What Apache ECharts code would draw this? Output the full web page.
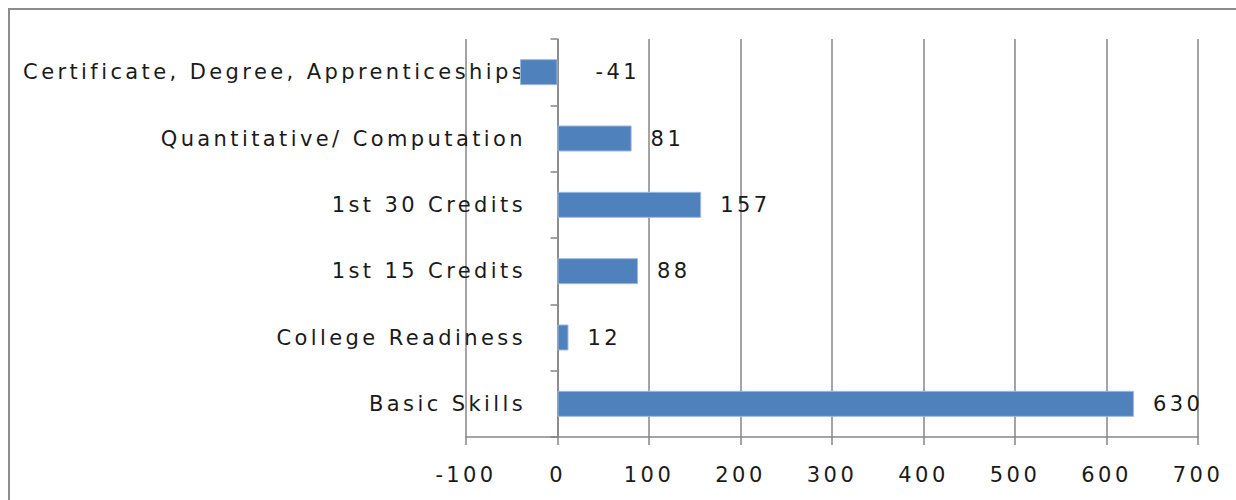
<!DOCTYPE html>
<html>
<head>
<meta charset="utf-8">
<script src="https://cdn.jsdelivr.net/npm/echarts@6/dist/echarts.min.js"></script>
<style>
  html, body { margin: 0; padding: 0; background: #fff; }
  #chart { width: 1236px; height: 500px; }
  /* the original Excel text is spread out wider than any installed font */
  #chart text { letter-spacing: 3.4px; }
</style>
</head>
<body>
<div id="chart"></div>
<script>
// categories listed bottom to top, as the category axis draws them
const categories = [
  'Basic Skills',
  'College Readiness',
  '1st 15 Credits',
  '1st 30 Credits',
  'Quantitative/ Computation',
  'Certificate, Degree, Apprenticeships'
];
const values = [630, 12, 88, 157, 81, -41];
const xTicks = [-100, 0, 100, 200, 300, 400, 500, 600, 700];

const myChart = echarts.init(document.getElementById('chart'), null, { renderer: 'svg' });

const font = 'DejaVu Sans';

const option = {
  backgroundColor: '#fff',
  animation: false,
  graphic: [
    {
      // outer chart frame, cut off at bottom and right
      type: 'polyline',
      shape: { points: [[9, 500], [9, 9], [1236, 9]] },
      style: { stroke: '#8c8c8c', lineWidth: 2, fill: null }
    }
  ],
  grid: {
    left: 466,
    right: 38,
    top: 39,
    bottom: 63,
    containLabel: false
  },
  xAxis: {
    type: 'value',
    min: xTicks[0],
    max: xTicks[xTicks.length - 1],
    interval: 100,
    axisLine: { show: true, lineStyle: { color: '#868686', width: 1.5 } },
    axisTick: { show: true, length: 8, lineStyle: { color: '#868686', width: 1.5 } },
    axisLabel: {
      fontFamily: font,
      fontSize: 21,
      color: '#1a1a1a',
      margin: 27
    },
    splitLine: { show: true, lineStyle: { color: '#868686', width: 1.5 } }
  },
  yAxis: {
    type: 'category',
    data: categories,
    axisLine: { show: true, onZero: true, lineStyle: { color: '#868686', width: 1.5 } },
    axisTick: { show: true, length: 7, lineStyle: { color: '#868686', width: 1.5 } },
    axisLabel: {
      fontFamily: font,
      fontSize: 21,
      color: '#1a1a1a',
      margin: -60
    }
  },
  series: [
    {
      type: 'bar',
      barWidth: 26,
      itemStyle: { color: '#4f81bd', borderColor: '#9cb8dc', borderWidth: 1 },
      label: {
        show: true,
        position: 'right',
        distance: 19,
        fontFamily: font,
        fontSize: 21,
        color: '#1a1a1a'
      },
      data: values.map(function (v) {
        if (v < 0) {
          return { value: v, label: { position: 'right', distance: 38 } };
        }
        return v;
      })
    }
  ]
};

myChart.setOption(option);
</script>
</body>
</html>
